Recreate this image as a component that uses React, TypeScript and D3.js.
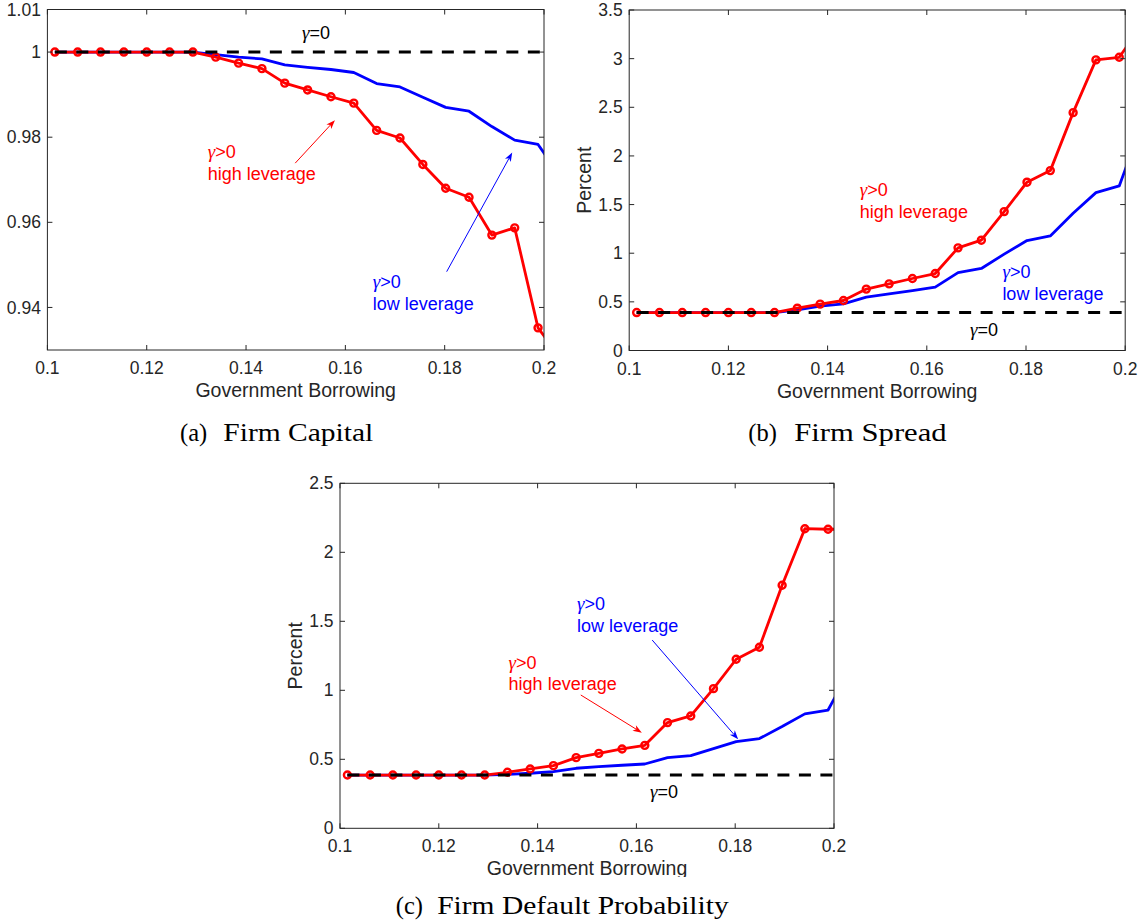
import * as d3 from 'd3';

// government borrowing grid (the last point lies just past 0.2 and is clipped by the axes)
const borrowing = [
  0.1015, 0.1061, 0.1107, 0.1154, 0.12, 0.1246, 0.1293, 0.1339, 0.1385, 0.1432, 0.1478, 0.1524,
  0.1571, 0.1617, 0.1663, 0.171, 0.1756, 0.1802, 0.1849, 0.1895, 0.1941, 0.1988, 0.2034,
];

// (a) firm capital
const capitalHigh = [
  1, 1, 1, 1, 1, 1, 1, 0.9988, 0.9974, 0.9961, 0.9927, 0.9911, 0.9895, 0.988, 0.9816, 0.9798,
  0.9736, 0.968, 0.9659, 0.957, 0.9587, 0.9352, 0.928,
];
const capitalLow = [
  1, 1, 1, 1, 1, 1, 1, 0.9994, 0.9988, 0.9984, 0.997, 0.9964, 0.9959, 0.9952, 0.9926, 0.9918,
  0.9894, 0.987, 0.9861, 0.9825, 0.9793, 0.9783, 0.9705,
];
const capitalBase = 1;

// (b) firm spread, percent
const spreadHigh = [
  0.39, 0.39, 0.39, 0.39, 0.39, 0.39, 0.39, 0.435, 0.477, 0.514, 0.631, 0.685, 0.74, 0.791, 1.055,
  1.134, 1.428, 1.73, 1.849, 2.445, 2.987, 3.014, 3.35,
];
const spreadLow = [
  0.39, 0.39, 0.39, 0.39, 0.39, 0.39, 0.39, 0.418, 0.456, 0.48, 0.548, 0.582, 0.616, 0.651, 0.801,
  0.843, 0.99, 1.13, 1.178, 1.411, 1.623, 1.692, 2.33,
];
const spreadBase = 0.39;

// (c) firm default probability, percent
const defaultHigh = [
  0.386, 0.386, 0.386, 0.386, 0.386, 0.386, 0.386, 0.406, 0.43, 0.454, 0.512, 0.543, 0.575, 0.601,
  0.766, 0.814, 1.012, 1.225, 1.312, 1.761, 2.171, 2.167, 2.167,
];
const defaultLow = [
  0.386, 0.386, 0.386, 0.386, 0.386, 0.386, 0.386, 0.391, 0.399, 0.411, 0.435, 0.447, 0.457, 0.466,
  0.512, 0.527, 0.577, 0.628, 0.65, 0.737, 0.829, 0.857, 1.16,
];
const defaultBase = 0.386;

const xTicks = [0.1, 0.12, 0.14, 0.16, 0.18, 0.2];
const xTickLabels = ['0.1', '0.12', '0.14', '0.16', '0.18', '0.2'];
const capitalTicks = [0.94, 0.96, 0.98, 1, 1.01];
const capitalTickLabels = ['0.94', '0.96', '0.98', '1', '1.01'];
const spreadTicks = [0, 0.5, 1, 1.5, 2, 2.5, 3, 3.5];
const spreadTickLabels = ['0', '0.5', '1', '1.5', '2', '2.5', '3', '3.5'];
const defaultTicks = [0, 0.5, 1, 1.5, 2, 2.5];
const defaultTickLabels = ['0', '0.5', '1', '1.5', '2', '2.5'];

const SANS = '"Liberation Sans", Arial, Helvetica, sans-serif';
const SERIF = '"Liberation Serif", "Times New Roman", serif';
const AXIS = '#262626';
const RED = '#ff0000';
const BLUE = '#0000ff';

interface Note {
  x: number;
  y: number;
  text: string;
  color: string;
  anchor?: 'start' | 'middle';
}

interface Arrow {
  x1: number;
  y1: number;
  x2: number;
  y2: number;
  color: string;
}

interface PanelSpec {
  id: string;
  left: number;
  right: number;
  top: number;
  bottom: number;
  yDomain: [number, number];
  yTicks: number[];
  yTickLabels: string[];
  high: number[];
  low: number[];
  base: number;
  yLabel?: string;
  notes: Note[];
  arrows: Arrow[];
  tag: string;
  title: string;
  tagX: number;
  titleX: number;
  titleWidth: number;
  captionY: number;
  labelClip?: number;
}

const panels: PanelSpec[] = [
  {
    id: 'a',
    left: 47.4,
    right: 544,
    top: 9.5,
    bottom: 350,
    yDomain: [0.93, 1.01],
    yTicks: capitalTicks,
    yTickLabels: capitalTickLabels,
    high: capitalHigh,
    low: capitalLow,
    base: capitalBase,
    notes: [
      { x: 0.1541, y: 1.00465, text: 'γ=0', color: '#000', anchor: 'middle' },
      { x: 0.1323, y: 0.9766, text: 'γ>0', color: RED },
      { x: 0.1323, y: 0.97135, text: 'high leverage', color: RED },
      { x: 0.1655, y: 0.946, text: 'γ>0', color: BLUE },
      { x: 0.1655, y: 0.9408, text: 'low leverage', color: BLUE },
    ],
    arrows: [
      { x1: 0.1499, y1: 0.9739, x2: 0.1579, y2: 0.984, color: RED },
      { x1: 0.1804, y1: 0.9484, x2: 0.1936, y2: 0.9764, color: BLUE },
    ],
    tag: '(a)',
    title: 'Firm Capital',
    tagX: 180,
    titleX: 223.3,
    titleWidth: 150,
    captionY: 440.5,
  },
  {
    id: 'b',
    left: 629.2,
    right: 1125.2,
    top: 10,
    bottom: 350.5,
    yDomain: [0, 3.5],
    yTicks: spreadTicks,
    yTickLabels: spreadTickLabels,
    high: spreadHigh,
    low: spreadLow,
    base: spreadBase,
    yLabel: 'Percent',
    notes: [
      { x: 0.1465, y: 1.657, text: 'γ>0', color: RED },
      { x: 0.1465, y: 1.4236, text: 'high leverage', color: RED },
      { x: 0.17524, y: 0.81, text: 'γ>0', color: BLUE },
      { x: 0.17524, y: 0.588, text: 'low leverage', color: BLUE },
      { x: 0.16871, y: 0.2107, text: 'γ=0', color: '#000' },
    ],
    arrows: [],
    tag: '(b)',
    title: 'Firm Spread',
    tagX: 748.3,
    titleX: 794.3,
    titleWidth: 152.3,
    captionY: 440.5,
  },
  {
    id: 'c',
    left: 340,
    right: 834,
    top: 483.3,
    bottom: 828.3,
    yDomain: [0, 2.5],
    yTicks: defaultTicks,
    yTickLabels: defaultTickLabels,
    high: defaultHigh,
    low: defaultLow,
    base: defaultBase,
    yLabel: 'Percent',
    notes: [
      { x: 0.148, y: 1.63, text: 'γ>0', color: BLUE },
      { x: 0.148, y: 1.468, text: 'low leverage', color: BLUE },
      { x: 0.13413, y: 1.2, text: 'γ>0', color: RED },
      { x: 0.13413, y: 1.0457, text: 'high leverage', color: RED },
      { x: 0.16275, y: 0.2645, text: 'γ=0', color: '#000' },
    ],
    arrows: [
      { x1: 0.1632, y1: 1.364, x2: 0.1806, y2: 0.645, color: BLUE },
      { x1: 0.14874, y1: 0.966, x2: 0.1611, y2: 0.6928, color: RED },
    ],
    tag: '(c)',
    title: 'Firm Default Probability',
    tagX: 395.8,
    titleX: 437.2,
    titleWidth: 291.5,
    captionY: 914,
    labelClip: 877,
  },
];

const NoteText = ({ note, x, y }: { note: Note; x: number; y: number }) => {
  const gamma = note.text.startsWith('γ');
  return (
    <text
      x={x}
      y={y}
      dy="0.35em"
      fill={note.color}
      fontFamily={SANS}
      fontSize={18}
      textAnchor={note.anchor || 'start'}
    >
      {gamma ? (
        <>
          <tspan fontFamily={SERIF} fontStyle="italic" fontSize={19}>
            γ
          </tspan>
          {note.text.slice(1)}
        </>
      ) : (
        note.text
      )}
    </text>
  );
};

const ArrowMark = ({ x1, y1, x2, y2, color }: { x1: number; y1: number; x2: number; y2: number; color: string }) => {
  const ang = Math.atan2(y2 - y1, x2 - x1);
  const ux = Math.cos(ang);
  const uy = Math.sin(ang);
  const len = 9;
  const half = 3.3;
  const notch = 6.5;
  const head = [
    [x2, y2],
    [x2 - len * ux - half * uy, y2 - len * uy + half * ux],
    [x2 - notch * ux, y2 - notch * uy],
    [x2 - len * ux + half * uy, y2 - len * uy - half * ux],
  ];
  return (
    <g>
      <line x1={x1} y1={y1} x2={x2 - notch * ux} y2={y2 - notch * uy} stroke={color} strokeWidth={1} />
      <polygon points={head.map((p) => p.join(',')).join(' ')} fill={color} />
    </g>
  );
};

const Panel = ({ p }: { p: PanelSpec }) => {
  const x = d3.scaleLinear().domain([0.1, 0.2]).range([p.left, p.right]);
  const y = d3.scaleLinear().domain(p.yDomain).range([p.bottom, p.top]);
  const line = d3
    .line<number>()
    .x((_, i) => x(borrowing[i]))
    .y((d) => y(d));
  const baseLine = d3.line<number>()
    .x((d) => x(d))
    .y(() => y(p.base));
  const clipId = `plot-${p.id}`;
  const labelClipId = `label-${p.id}`;
  const markers = p.high.filter((_, i) => borrowing[i] <= 0.2);
  const tickLen = 5;

  return (
    <g>
      <defs>
        <clipPath id={clipId}>
          <rect x={p.left} y={p.top} width={p.right - p.left} height={p.bottom - p.top} />
        </clipPath>
        {p.labelClip && (
          <clipPath id={labelClipId}>
            <rect x={0} y={0} width={1143} height={p.labelClip} />
          </clipPath>
        )}
      </defs>

      {/* series */}
      <g clipPath={`url(#${clipId})`}>
        <path d={line(p.low) || ''} fill="none" stroke={BLUE} strokeWidth={2.8} strokeLinejoin="round" />
        <path d={line(p.high) || ''} fill="none" stroke={RED} strokeWidth={2.8} strokeLinejoin="round" />
        {markers.map((v, i) => (
          <circle key={i} cx={x(borrowing[i])} cy={y(v)} r={3.5} fill="none" stroke={RED} strokeWidth={2.4} />
        ))}
        <path
          d={baseLine([borrowing[0], 0.2]) || ''}
          fill="none"
          stroke="#000"
          strokeWidth={3}
          strokeDasharray="12,9.5"
        />
      </g>

      {/* axes box and ticks */}
      <rect
        x={p.left}
        y={p.top}
        width={p.right - p.left}
        height={p.bottom - p.top}
        fill="none"
        stroke={AXIS}
        strokeWidth={1}
      />
      {xTicks.map((t, i) => (
        <g key={`x${i}`}>
          <line x1={x(t)} x2={x(t)} y1={p.bottom} y2={p.bottom - tickLen} stroke={AXIS} />
          <line x1={x(t)} x2={x(t)} y1={p.top} y2={p.top + tickLen} stroke={AXIS} />
          <text
            x={x(t)}
            y={p.bottom + 24}
            textAnchor="middle"
            fontFamily={SANS}
            fontSize={17.5}
            fill={AXIS}
          >
            {xTickLabels[i]}
          </text>
        </g>
      ))}
      {p.yTicks.map((t, i) => (
        <g key={`y${i}`}>
          <line x1={p.left} x2={p.left + tickLen} y1={y(t)} y2={y(t)} stroke={AXIS} />
          <line x1={p.right} x2={p.right - tickLen} y1={y(t)} y2={y(t)} stroke={AXIS} />
          <text
            x={p.left - 6.5}
            y={y(t)}
            dy="0.35em"
            textAnchor="end"
            fontFamily={SANS}
            fontSize={17.5}
            fill={AXIS}
          >
            {p.yTickLabels[i]}
          </text>
        </g>
      ))}

      {/* axis labels */}
      <text
        x={(p.left + p.right) / 2}
        y={p.bottom + 47}
        textAnchor="middle"
        fontFamily={SANS}
        fontSize={19.5}
        fill={AXIS}
        clipPath={p.labelClip ? `url(#${labelClipId})` : undefined}
      >
        Government Borrowing
      </text>
      {p.yLabel && (
        <text
          transform={`translate(${p.left - 45},${(p.top + p.bottom) / 2}) rotate(-90)`}
          dy="0.35em"
          textAnchor="middle"
          fontFamily={SANS}
          fontSize={19.5}
          fill={AXIS}
        >
          {p.yLabel}
        </text>
      )}

      {/* annotations */}
      {p.notes.map((n, i) => (
        <NoteText key={`n${i}`} note={n} x={x(n.x)} y={y(n.y)} />
      ))}
      {p.arrows.map((a, i) => (
        <ArrowMark key={`a${i}`} x1={x(a.x1)} y1={y(a.y1)} x2={x(a.x2)} y2={y(a.y2)} color={a.color} />
      ))}

      {/* caption */}
      <text x={p.tagX} y={p.captionY} fontFamily={SERIF} fontSize={24.5} fill="#000">
        {p.tag}
      </text>
      <text
        x={p.titleX}
        y={p.captionY}
        fontFamily={SERIF}
        fontSize={24.5}
        fill="#000"
        textLength={p.titleWidth}
        lengthAdjust="spacingAndGlyphs"
      >
        {p.title}
      </text>
    </g>
  );
};

const App = () => {
  return (
    <svg
      width={1143}
      height={922}
      style={{ position: 'absolute', left: 0, top: 0, background: '#fff', display: 'block' }}
    >
      {panels.map((p) => (
        <Panel key={p.id} p={p} />
      ))}
    </svg>
  );
};

export default App;
